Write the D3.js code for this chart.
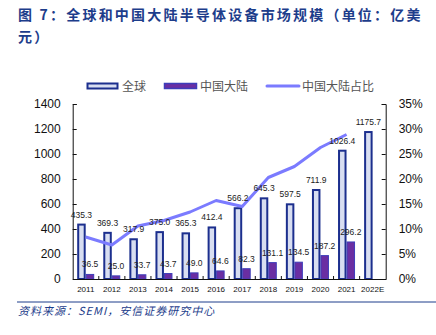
<!DOCTYPE html>
<html>
<head>
<meta charset="utf-8">
<script src="https://cdn.jsdelivr.net/npm/d3@7"></script>
<style>
  body { margin: 0; background: #fff; }
  svg { display: block; }
  text { font-family: "Liberation Sans", Arial, sans-serif; }
  .cjk { font-family: "Noto Sans CJK SC", sans-serif; }
</style>
</head>
<body>
<svg id="chart" width="436" height="335"></svg>
<script>
// data
const years = ["2011", "2012", "2013", "2014", "2015", "2016", "2017", "2018", "2019", "2020", "2021", "2022E"];
const globalVals = [435.3, 369.3, 317.9, 375.0, 365.3, 412.4, 566.2, 645.3, 597.5, 711.9, 1026.4, 1175.7];
const chinaVals = [36.5, 25.0, 33.7, 43.7, 49.0, 64.6, 82.3, 131.1, 134.5, 187.2, 296.2, null];
const chinaShare = [8.4, 6.8, 10.6, 11.7, 13.4, 15.7, 14.5, 20.3, 22.5, 26.3, 28.9, null];
const leftTicks = [0, 200, 400, 600, 800, 1000, 1200, 1400];
const rightTicks = [0, 5, 10, 15, 20, 25, 30, 35];

const navy = "#1c2f8e";
const titleBlue = "#1d3d8b";

const svg = d3.select("#chart");

// title + footer
svg.append("text").attr("class", "cjk")
  .attr("x", 18).attr("y", 20)
  .attr("font-size", 14).attr("font-weight", "bold")
  .attr("letter-spacing", 2.2)
  .attr("fill", titleBlue)
  .text("图 7：全球和中国大陆半导体设备市场规模（单位：亿美");
svg.append("text").attr("class", "cjk")
  .attr("x", 18).attr("y", 42)
  .attr("font-size", 14).attr("font-weight", "bold")
  .attr("letter-spacing", 2.2)
  .attr("fill", titleBlue)
  .text("元）");

svg.append("line")
  .attr("x1", 17).attr("x2", 436).attr("y1", 302).attr("y2", 302)
  .attr("stroke", titleBlue).attr("stroke-width", 1);
svg.append("text").attr("class", "cjk")
  .attr("x", 18).attr("y", 315)
  .attr("font-size", 11).attr("font-style", "italic")
  .attr("letter-spacing", 1)
  .attr("fill", titleBlue)
  .text("资料来源：SEMI，安信证券研究中心");

//------------------------------------------------------//
// scales
//------------------------------------------------------//
const plotL = 72.7, plotR = 385.7, plotT = 104, plotB = 279;

const x = d3.scaleBand().domain(years).range([plotL, plotR]).padding(0);
const sub = d3.scaleBand().domain(["g", "c"]).range([4.5, 21.5]).padding(0);
const y = d3.scaleLinear().domain([0, 1400]).range([plotB, plotT]);
const yR = d3.scaleLinear().domain([0, 35]).range([plotB, plotT]);

// bars
const g = svg.append("g");
g.selectAll("rect.global").data(years).join("rect")
  .attr("class", "global")
  .attr("x", (d) => x(d) + sub("g") + 1)
  .attr("y", (d, i) => y(globalVals[i]))
  .attr("width", sub.bandwidth() - 2)
  .attr("height", (d, i) => y(0) - y(globalVals[i]))
  .attr("fill", "#d8def1")
  .attr("stroke", navy)
  .attr("stroke-width", 2);

const chinaYears = years.filter((d, i) => chinaVals[i] != null);
g.selectAll("rect.china").data(chinaYears).join("rect")
  .attr("class", "china")
  .attr("x", (d) => x(d) + sub("c") + 0.5)
  .attr("y", (d, i) => y(chinaVals[i]))
  .attr("width", sub.bandwidth() - 1)
  .attr("height", (d, i) => y(0) - y(chinaVals[i]))
  .attr("fill", "#6a2ea2")
  .attr("stroke", "#3d3dba")
  .attr("stroke-width", 1);

// share line
const line = d3.line()
  .x((d) => x(d.year) + x.bandwidth() / 2)
  .y((d) => yR(d.v));
const linePts = chinaYears.map((d, i) => ({ year: d, v: chinaShare[i] }));
svg.append("path").datum(linePts)
  .attr("d", line)
  .attr("fill", "none")
  .attr("stroke", "#7b7bff")
  .attr("stroke-width", 3)
  .attr("stroke-linejoin", "round");

// value labels
svg.selectAll("text.glab").data(years).join("text")
  .attr("class", "glab")
  .attr("x", (d) => x(d) + sub("g") + sub.bandwidth() / 2)
  .attr("y", (d, i) => y(globalVals[i]) - 7)
  .attr("text-anchor", "middle")
  .attr("font-size", 8.5)
  .attr("fill", "#222")
  .text((d, i) => globalVals[i].toFixed(1));
svg.selectAll("text.clab").data(chinaYears).join("text")
  .attr("class", "clab")
  .attr("x", (d) => x(d) + sub("c") + sub.bandwidth() / 2)
  .attr("y", (d, i) => y(chinaVals[i]) - 7)
  .attr("text-anchor", "middle")
  .attr("font-size", 8.5)
  .attr("fill", "#222")
  .text((d, i) => chinaVals[i].toFixed(1));

//------------------------------------------------------//
// axes
//------------------------------------------------------//
const axL = svg.append("g").attr("transform", `translate(${plotL},0)`)
  .call(d3.axisRight(y).tickValues(leftTicks).tickSize(4).tickFormat(d3.format("d")));
axL.selectAll("text").attr("x", -12).attr("text-anchor", "end")
  .attr("font-size", 12).attr("fill", "#111")
  .attr("font-family", "Liberation Sans, Arial, sans-serif");

const axR = svg.append("g").attr("transform", `translate(${plotR},0)`)
  .call(d3.axisLeft(yR).tickValues(rightTicks).tickSize(4).tickFormat((d) => d + "%"));
axR.selectAll("text").attr("x", 13).attr("text-anchor", "start")
  .attr("font-size", 12).attr("fill", "#111")
  .attr("font-family", "Liberation Sans, Arial, sans-serif");

const axB = svg.append("g").attr("transform", `translate(0,${plotB})`)
  .call(d3.axisBottom(x).tickSize(0).tickPadding(7));
axB.selectAll("text").attr("font-size", 8).attr("fill", "#111")
  .attr("font-family", "Liberation Sans, Arial, sans-serif");
axB.select(".domain").attr("stroke", "#111");
// small inward ticks between categories
axB.selectAll("line.sep").data(years.slice(1)).join("line")
  .attr("class", "sep")
  .attr("x1", (d) => x(d)).attr("x2", (d) => x(d))
  .attr("y1", 0).attr("y2", -3)
  .attr("stroke", "#111");

[axL, axR].forEach((a) => {
  a.select(".domain").attr("stroke", "#111");
  a.selectAll(".tick line").attr("stroke", "#111");
});

//------------------------------------------------------//
// legend
//------------------------------------------------------//
const lg = svg.append("g").attr("transform", "translate(0,86)");
lg.append("rect").attr("x", 87.5).attr("y", -2.5).attr("width", 30).attr("height", 5)
  .attr("fill", "#d8def1").attr("stroke", navy).attr("stroke-width", 2);
lg.append("text").attr("class", "cjk").attr("x", 122).attr("y", 4.5)
  .attr("font-size", 12).attr("fill", "#555").text("全球");
lg.append("rect").attr("x", 164.5).attr("y", -2.5).attr("width", 32).attr("height", 5)
  .attr("fill", "#6a2ea2").attr("stroke", "#3d3dba").attr("stroke-width", 1.5);
lg.append("text").attr("class", "cjk").attr("x", 200).attr("y", 4.5)
  .attr("font-size", 12).attr("fill", "#555").text("中国大陆");
lg.append("line").attr("x1", 267).attr("x2", 299).attr("y1", 0).attr("y2", 0)
  .attr("stroke", "#7b7bff").attr("stroke-width", 3).attr("stroke-linecap", "round");
lg.append("text").attr("class", "cjk").attr("x", 302).attr("y", 4.5)
  .attr("font-size", 12).attr("fill", "#555").text("中国大陆占比");
</script>
</body>
</html>
